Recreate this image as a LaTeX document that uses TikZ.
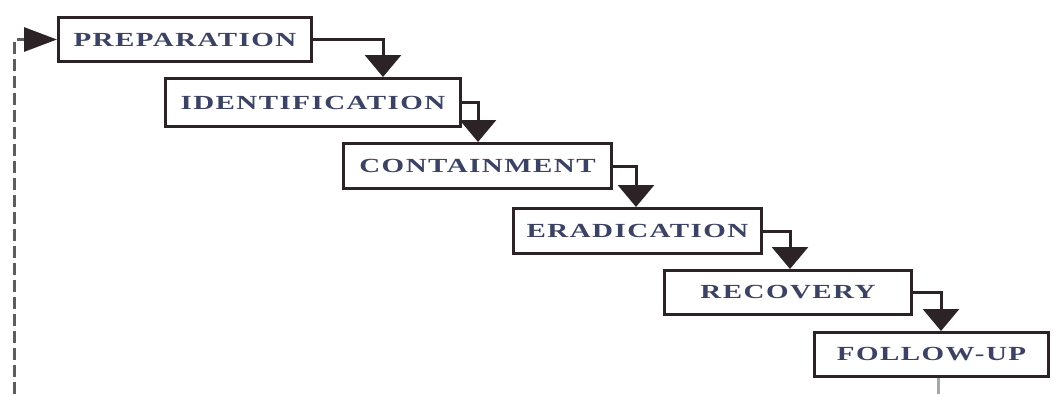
\documentclass[tikz,border=0pt]{standalone}
\usepackage{fontspec}
\usepackage{graphicx}
\usetikzlibrary{arrows.meta,calc}
\newfontfamily\stagefont{Liberation Serif}[LetterSpace=5]
\newcommand\stagename[1]{\scalebox{1.45}[1]{#1}}
\definecolor{ink}{RGB}{43,35,38}
\definecolor{txt}{RGB}{60,66,100}
\definecolor{loopgray}{RGB}{95,92,95}
\tikzset{
  stagebox/.style={draw=ink, line width=3pt, fill=white, inner sep=0pt,
    text=txt, font=\stagefont\bfseries\fontsize{20}{22}\selectfont},
  flow/.style={draw=ink, line width=3pt,
    -{Triangle[width=36pt,length=22pt]}},
  backloop/.style={draw=loopgray, line width=3pt, dash pattern=on 12pt off 5pt,
    -{Triangle[width=24pt,length=33pt,fill=ink,color=ink]}},
  tail/.style={draw=gray!70, line width=3pt}
}
\begin{document}
\begin{tikzpicture}[x=1pt,y=-1pt]
\useasboundingbox (0,0) rectangle (1053,394);
% stages of the process, each box given by its centre and size
\node[stagebox, minimum width=253pt, minimum height=44pt] (prep)   at (185,39.5)   {\stagename{PREPARATION}};
\node[stagebox, minimum width=295pt, minimum height=48pt] (ident)  at (313,102.5)  {\stagename{IDENTIFICATION}};
\node[stagebox, minimum width=268pt, minimum height=45pt] (cont)   at (477.5,166)  {\stagename{CONTAINMENT}};
\node[stagebox, minimum width=248pt, minimum height=45pt] (erad)   at (637.5,231)  {\stagename{ERADICATION}};
\node[stagebox, minimum width=247pt, minimum height=44pt] (recov)  at (788,292.5)  {\stagename{RECOVERY}};
\node[stagebox, minimum width=234pt, minimum height=44pt] (follow) at (931.5,354.5) {\stagename{FOLLOW-UP}};
% step connectors: out of the right side, down onto the next box
\draw[flow] (prep.east)  -| ($(ident.north west)+(219,0)$);
\draw[flow] (ident.east) -| ($(cont.north west)+(136,0)$);
\draw[flow] (cont.east)  -| ($(erad.north west)+(124,0)$);
\draw[flow] (erad.east)  -| ($(recov.north west)+(127,0)$);
\draw[flow] (recov.east) -| ($(follow.north west)+(128,0)$);
% feedback loop back to the first stage
\coordinate (loopstart) at (14,394);
\draw[backloop] (loopstart) |- (prep.west);
\coordinate (tailend) at (938,394);
\draw[tail] (tailend |- follow.south) -- (tailend);
\end{tikzpicture}
\end{document}
